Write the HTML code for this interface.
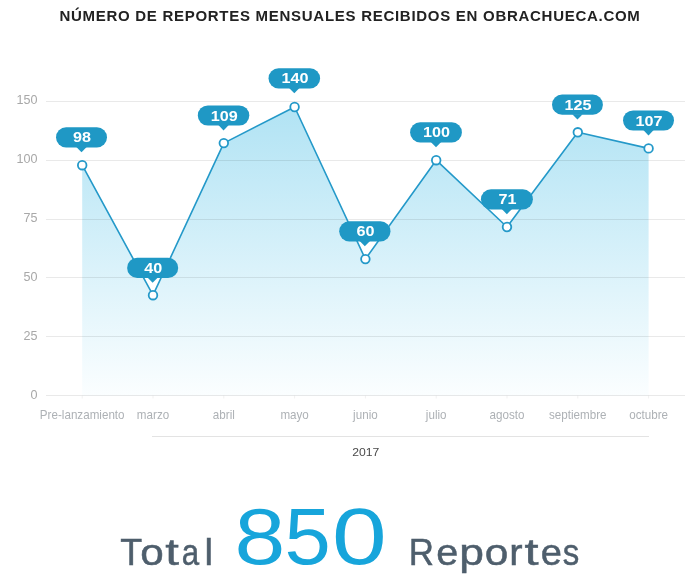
<!DOCTYPE html>
<html><head><meta charset="utf-8"><style>
html,body{margin:0;padding:0;background:#fff;}
body{width:700px;height:577px;overflow:hidden;}
svg{display:block;font-family:"Liberation Sans",sans-serif;will-change:transform;}
.title{font-size:15px;font-weight:bold;fill:#222;letter-spacing:0.72px;}
.yl{font-size:12px;fill:#a8a8a8;}
.xl{font-size:12px;fill:#adb1b5;}
.yr{font-size:10.8px;fill:#4a4a4a;}
.bv{font-size:13.8px;font-weight:bold;fill:#fff;}
.tot{font-size:37.3px;fill:#4e5e6c;stroke:#4e5e6c;stroke-width:0.5px;}
.num{font-size:79px;fill:#17a5db;}
</style></head><body>
<svg width="700" height="577" viewBox="0 0 700 577">
<defs><linearGradient id="g" x1="0" y1="107" x2="0" y2="396" gradientUnits="userSpaceOnUse"><stop offset="0" stop-color="#b1e3f4"/><stop offset="1" stop-color="#fbfeff"/></linearGradient></defs>
<polygon points="82.2,395.7 82.2,165.2 153.0,295.2 223.8,143.1 294.6,107.0 365.4,259.1 436.2,160.2 507.0,227.0 577.8,132.3 648.6,148.4 648.6,395.7" fill="url(#g)"/>
<line x1="46" y1="101.5" x2="685" y2="101.5" stroke="rgba(0,0,0,0.085)" stroke-width="1"/>
<text transform="translate(37.50,104.25) scale(1.05,1)" text-anchor="end" class="yl">150</text>
<line x1="46" y1="160.5" x2="685" y2="160.5" stroke="rgba(0,0,0,0.085)" stroke-width="1"/>
<text transform="translate(37.50,163.28) scale(1.05,1)" text-anchor="end" class="yl">100</text>
<line x1="46" y1="219.5" x2="685" y2="219.5" stroke="rgba(0,0,0,0.085)" stroke-width="1"/>
<text transform="translate(37.50,222.31) scale(1.05,1)" text-anchor="end" class="yl">75</text>
<line x1="46" y1="277.5" x2="685" y2="277.5" stroke="rgba(0,0,0,0.085)" stroke-width="1"/>
<text transform="translate(37.50,281.34) scale(1.05,1)" text-anchor="end" class="yl">50</text>
<line x1="46" y1="336.5" x2="685" y2="336.5" stroke="rgba(0,0,0,0.085)" stroke-width="1"/>
<text transform="translate(37.50,340.37) scale(1.05,1)" text-anchor="end" class="yl">25</text>
<line x1="46" y1="395.5" x2="685" y2="395.5" stroke="rgba(0,0,0,0.085)" stroke-width="1"/>
<text transform="translate(37.50,399.40) scale(1.05,1)" text-anchor="end" class="yl">0</text>
<line x1="82.2" y1="395.7" x2="82.2" y2="398.5" stroke="rgba(0,0,0,0.06)" stroke-width="1"/>
<line x1="153.0" y1="395.7" x2="153.0" y2="398.5" stroke="rgba(0,0,0,0.06)" stroke-width="1"/>
<line x1="223.8" y1="395.7" x2="223.8" y2="398.5" stroke="rgba(0,0,0,0.06)" stroke-width="1"/>
<line x1="294.6" y1="395.7" x2="294.6" y2="398.5" stroke="rgba(0,0,0,0.06)" stroke-width="1"/>
<line x1="365.4" y1="395.7" x2="365.4" y2="398.5" stroke="rgba(0,0,0,0.06)" stroke-width="1"/>
<line x1="436.2" y1="395.7" x2="436.2" y2="398.5" stroke="rgba(0,0,0,0.06)" stroke-width="1"/>
<line x1="507.0" y1="395.7" x2="507.0" y2="398.5" stroke="rgba(0,0,0,0.06)" stroke-width="1"/>
<line x1="577.8" y1="395.7" x2="577.8" y2="398.5" stroke="rgba(0,0,0,0.06)" stroke-width="1"/>
<line x1="648.6" y1="395.7" x2="648.6" y2="398.5" stroke="rgba(0,0,0,0.06)" stroke-width="1"/>
<polyline points="82.2,165.2 153.0,295.2 223.8,143.1 294.6,107.0 365.4,259.1 436.2,160.2 507.0,227.0 577.8,132.3 648.6,148.4" fill="none" stroke="#2499c9" stroke-width="1.6" stroke-linejoin="round"/>
<circle cx="82.2" cy="165.2" r="4.3" fill="#fff" stroke="#2499c9" stroke-width="1.8"/>
<circle cx="153.0" cy="295.2" r="4.3" fill="#fff" stroke="#2499c9" stroke-width="1.8"/>
<circle cx="223.8" cy="143.1" r="4.3" fill="#fff" stroke="#2499c9" stroke-width="1.8"/>
<circle cx="294.6" cy="107.0" r="4.3" fill="#fff" stroke="#2499c9" stroke-width="1.8"/>
<circle cx="365.4" cy="259.1" r="4.3" fill="#fff" stroke="#2499c9" stroke-width="1.8"/>
<circle cx="436.2" cy="160.2" r="4.3" fill="#fff" stroke="#2499c9" stroke-width="1.8"/>
<circle cx="507.0" cy="227.0" r="4.3" fill="#fff" stroke="#2499c9" stroke-width="1.8"/>
<circle cx="577.8" cy="132.3" r="4.3" fill="#fff" stroke="#2499c9" stroke-width="1.8"/>
<circle cx="648.6" cy="148.4" r="4.3" fill="#fff" stroke="#2499c9" stroke-width="1.8"/>
<rect x="56.00" y="127.30" width="51.00" height="20.2" rx="10.1" fill="#1f98c5"/>
<polygon points="76.30,147.00 86.70,147.00 81.50,152.30" fill="#1f98c5"/>
<text transform="translate(82.10,142.45) scale(1.172,1)" text-anchor="middle" class="bv">98</text>
<rect x="127.10" y="257.80" width="51.10" height="20.2" rx="10.1" fill="#1f98c5"/>
<polygon points="147.45,277.50 157.85,277.50 152.65,282.80" fill="#1f98c5"/>
<text transform="translate(153.25,272.95) scale(1.172,1)" text-anchor="middle" class="bv">40</text>
<rect x="197.80" y="105.40" width="51.50" height="20.2" rx="10.1" fill="#1f98c5"/>
<polygon points="218.35,125.10 228.75,125.10 223.55,130.40" fill="#1f98c5"/>
<text transform="translate(224.15,120.55) scale(1.172,1)" text-anchor="middle" class="bv">109</text>
<rect x="268.50" y="68.30" width="51.60" height="20.2" rx="10.1" fill="#1f98c5"/>
<polygon points="289.10,88.00 299.50,88.00 294.30,93.30" fill="#1f98c5"/>
<text transform="translate(294.90,83.45) scale(1.172,1)" text-anchor="middle" class="bv">140</text>
<rect x="339.20" y="221.20" width="51.30" height="20.2" rx="10.1" fill="#1f98c5"/>
<polygon points="359.65,240.90 370.05,240.90 364.85,246.20" fill="#1f98c5"/>
<text transform="translate(365.45,236.35) scale(1.172,1)" text-anchor="middle" class="bv">60</text>
<rect x="410.10" y="122.30" width="51.80" height="20.2" rx="10.1" fill="#1f98c5"/>
<polygon points="430.80,142.00 441.20,142.00 436.00,147.30" fill="#1f98c5"/>
<text transform="translate(436.60,137.45) scale(1.172,1)" text-anchor="middle" class="bv">100</text>
<rect x="480.90" y="189.20" width="52.00" height="20.2" rx="10.1" fill="#1f98c5"/>
<polygon points="501.70,208.90 512.10,208.90 506.90,214.20" fill="#1f98c5"/>
<text transform="translate(507.50,204.35) scale(1.172,1)" text-anchor="middle" class="bv">71</text>
<rect x="552.00" y="94.60" width="50.90" height="20.2" rx="10.1" fill="#1f98c5"/>
<polygon points="572.25,114.30 582.65,114.30 577.45,119.60" fill="#1f98c5"/>
<text transform="translate(578.05,109.75) scale(1.172,1)" text-anchor="middle" class="bv">125</text>
<rect x="623.00" y="110.40" width="51.00" height="20.2" rx="10.1" fill="#1f98c5"/>
<polygon points="643.30,130.10 653.70,130.10 648.50,135.40" fill="#1f98c5"/>
<text transform="translate(649.10,125.55) scale(1.172,1)" text-anchor="middle" class="bv">107</text>
<text transform="translate(82.20,419.30) scale(0.97,1)" text-anchor="middle" class="xl">Pre-lanzamiento</text>
<text transform="translate(153.00,419.30) scale(0.97,1)" text-anchor="middle" class="xl">marzo</text>
<text transform="translate(223.80,419.30) scale(0.97,1)" text-anchor="middle" class="xl">abril</text>
<text transform="translate(294.60,419.30) scale(0.97,1)" text-anchor="middle" class="xl">mayo</text>
<text transform="translate(365.40,419.30) scale(0.97,1)" text-anchor="middle" class="xl">junio</text>
<text transform="translate(436.20,419.30) scale(0.97,1)" text-anchor="middle" class="xl">julio</text>
<text transform="translate(507.00,419.30) scale(0.97,1)" text-anchor="middle" class="xl">agosto</text>
<text transform="translate(577.80,419.30) scale(0.97,1)" text-anchor="middle" class="xl">septiembre</text>
<text transform="translate(648.60,419.30) scale(0.97,1)" text-anchor="middle" class="xl">octubre</text>
<line x1="152" y1="436.5" x2="649" y2="436.5" stroke="rgba(0,0,0,0.11)" stroke-width="1"/>
<text transform="translate(365.70,456.40) scale(1.13,1)" text-anchor="middle" class="yr">2017</text>
<text transform="translate(120.13,564.60) scale(0.963,1)" class="tot">T</text>
<text transform="translate(140.29,564.60) scale(1.132,1)" class="tot">o</text>
<text transform="translate(165.20,564.60) scale(1.314,1)" class="tot">t</text>
<text transform="translate(181.86,564.60) scale(0.839,1)" class="tot">a</text>
<text transform="translate(204.39,564.60) scale(1.032,1)" class="tot">l</text>
<text transform="translate(408.83,564.60) scale(0.936,1)" class="tot">R</text>
<text transform="translate(436.31,564.60) scale(1.060,1)" class="tot">e</text>
<text transform="translate(459.14,564.60) scale(1.192,1)" class="tot">p</text>
<text transform="translate(484.68,564.60) scale(1.137,1)" class="tot">o</text>
<text transform="translate(509.29,564.60) scale(1.072,1)" class="tot">r</text>
<text transform="translate(524.38,564.60) scale(1.355,1)" class="tot">t</text>
<text transform="translate(540.67,564.60) scale(1.020,1)" class="tot">e</text>
<text transform="translate(562.66,564.60) scale(0.886,1)" class="tot">s</text>
<text transform="translate(234.50,563.80) scale(1.156,1)" class="num">8</text>
<text transform="translate(284.51,563.80) scale(1.053,1)" class="num">5</text>
<text transform="translate(331.91,563.80) scale(1.245,1)" class="num">0</text>
<text x="350.00" y="20.60" text-anchor="middle" class="title">NÚMERO DE REPORTES MENSUALES RECIBIDOS EN OBRACHUECA.COM</text>
</svg>
</body></html>
